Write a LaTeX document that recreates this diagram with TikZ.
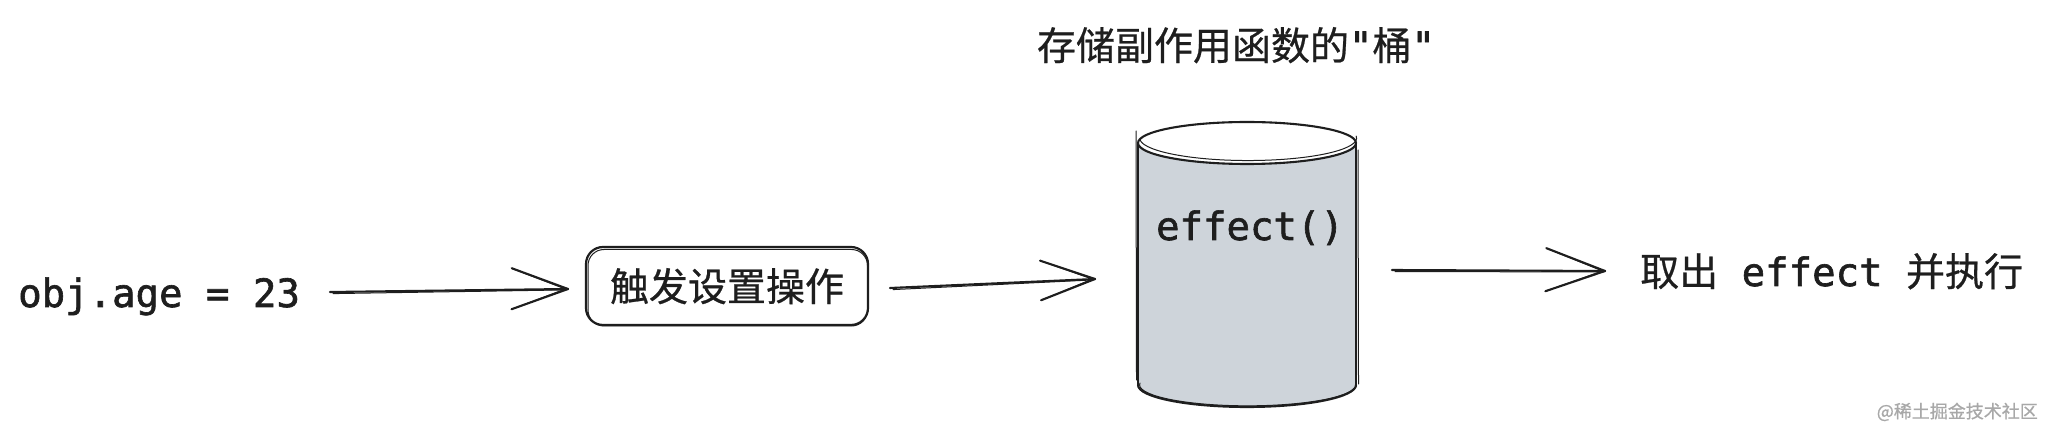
\documentclass[tikz,border=0pt]{standalone}
\usepackage{fontspec}
\newfontfamily\cjkf[FakeBold=0.6]{Noto Sans CJK SC}
\newfontfamily\monof[FakeBold=1.6]{DejaVu Sans Mono}
\usetikzlibrary{calc}
\definecolor{ink}{HTML}{1E1E1E}
\definecolor{bucketgray}{HTML}{CED4DA}
\definecolor{wmgray}{HTML}{A8A8A8}
\newcommand\sketcharrow[3]{%
  \draw[stroke] (#1) -- (#2);
  \draw[stroke2] ([shift={(3,1.6)}]#1) -- ([shift={(-2,0.9)}]#2);
  \draw[stroke] (#2) -- ($(#2)!#3!-21:(#1)$);
  \draw[stroke] (#2) -- ($(#2)!#3!19:(#1)$);
  \draw[stroke2] ([shift={(-1,0.6)}]#2) -- ($([shift={(0,1.8)}]#2)!#3!-22:(#1)$);
  \draw[stroke2] ([shift={(-1,-0.6)}]#2) -- ($([shift={(0,-1.5)}]#2)!#3!20:(#1)$);
}
\begin{document}
\begin{tikzpicture}[x=1pt,y=-1pt,
  stroke/.style={draw=ink, line width=2.1pt, line cap=round, line join=round},
  stroke2/.style={draw=ink, line width=1pt, line cap=round, line join=round},
  lbl/.style={inner sep=0pt, text=ink},
  big/.style={font=\fontsize{39}{46}\selectfont}]
\useasboundingbox[fill=white] (0,0) rectangle (2047,427);

% texts
\node[lbl, big, anchor=base west] (obj) at (18,307) {\monof obj.age = 23};
\node[lbl, big, anchor=base] (trig) at (727,301) {\cjkf 触发设置操作};
\node[lbl, big, anchor=base] (title) at (1236,60) {\cjkf 存储副作用函数的{\monof"}桶{\monof"}};
\node[lbl, big, anchor=base west] (run) at (1640,286) {\cjkf 取出{\monof\ effect\ }并执行};
\node[inner sep=0pt, text=wmgray, font=\fontsize{18}{20}\selectfont, anchor=base east] (wmk) at (2038,418) {\cjkf @稀土掘金技术社区};

% rounded box around trigger text
\node[draw=ink, line width=2.2pt, rounded corners=17pt, minimum width=282pt, minimum height=78pt, inner sep=0pt] (trigbox) at (727,286) {};
\draw[stroke2, rounded corners=16pt] (588,249.5) rectangle (867.5,326);

% bucket (cylinder)
\fill[bucketgray] (1138,143) -- (1138,385) arc[start angle=180, end angle=0, x radius=109, y radius=22] -- (1356,143) -- cycle;
\draw[stroke] (1138,143) -- (1138,385);
\draw[stroke2] (1136,131) -- (1136.5,380);
\draw[stroke] (1356,143) -- (1356,386);
\draw[stroke2] (1358,150) -- (1358.5,384);
\draw[stroke] (1138,385) arc[start angle=180, end angle=0, x radius=109, y radius=22];
\draw[stroke2] (1140,383) arc[start angle=185, end angle=10, x radius=108, y radius=21];
\draw[stroke, fill=white] (1247,143) ellipse[x radius=109, y radius=21];
\draw[stroke2] (1140,140) arc[start angle=175, end angle=-5, x radius=108.5, y radius=22.5];
\node[inner sep=0pt, minimum width=218pt, minimum height=286pt] (bucket) at (1247,265) {};
\node[lbl, big, anchor=base] (eff) at (1250,240) {\monof effect()};

% arrows
\coordinate (a1s) at (330,292);
\coordinate (a1t) at (568,289);
\coordinate (a2s) at (890,288);
\coordinate (a2t) at (1095,279);
\coordinate (a3s) at (1392,270);
\coordinate (a3t) at (1605,271);
\sketcharrow{a1s}{a1t}{60pt}
\sketcharrow{a2s}{a2t}{58pt}
\sketcharrow{a3s}{a3t}{63pt}
\end{tikzpicture}
\end{document}
